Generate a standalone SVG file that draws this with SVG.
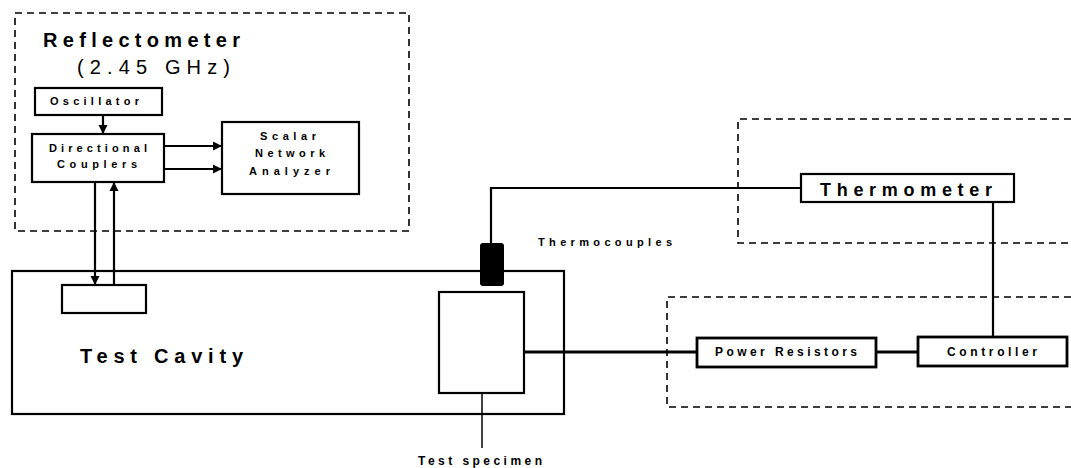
<svg xmlns="http://www.w3.org/2000/svg" width="1071" height="468" viewBox="0 0 1071 468">
<style>
.box{fill:#fff;stroke:#000;stroke-width:2.2}
.thick{fill:#fff;stroke:#000;stroke-width:2.8}
.dash{fill:none;stroke:#000;stroke-width:1.6;stroke-dasharray:7 5}
.ln{fill:none;stroke:#000;stroke-width:2.2}
.t{font-family:"Liberation Sans",Arial,sans-serif;font-weight:bold;fill:#000}
</style>
<defs>
<marker id="ah" viewBox="0 0 10 10" refX="10" refY="5" markerWidth="9" markerHeight="10" orient="auto" markerUnits="userSpaceOnUse">
<path d="M0,0 L10,5 L0,10 z" fill="#000"/>
</marker>
</defs>
<rect width="1071" height="468" fill="#fff"/>
<g id="groups">
<rect class="dash" x="15" y="13" width="394" height="218"/>
<path class="dash" d="M1071,119 H738 V243 H1071"/>
<path class="dash" d="M1071,297 H667 V407 H1071"/>
</g>
<g id="reflectometer-title">
<text class="t" x="43" y="47" font-size="20" textLength="197" lengthAdjust="spacing">Reflectometer</text>
<text class="t" x="77" y="74" font-size="20" style="font-weight:normal" textLength="153" lengthAdjust="spacing">(2.45 GHz)</text>
</g>
<g id="test-cavity">
<rect class="box" x="12" y="271" width="552" height="143"/>
<text class="t" x="80" y="363" font-size="20" textLength="163" lengthAdjust="spacing">Test Cavity</text>
</g>
<g id="connectors">
<line class="ln" x1="103" y1="115" x2="103" y2="134" marker-end="url(#ah)"/>
<line class="ln" x1="164" y1="146" x2="222" y2="146" marker-end="url(#ah)"/>
<line class="ln" x1="164" y1="169" x2="222" y2="169" marker-end="url(#ah)"/>
<line class="ln" x1="95" y1="182" x2="95" y2="285" marker-end="url(#ah)"/>
<line class="ln" x1="114" y1="285" x2="114" y2="182" marker-end="url(#ah)"/>
<path class="ln" d="M491,246 V188 H801"/>
<line class="ln" x1="993" y1="202" x2="993" y2="337"/>
<line class="ln" x1="524" y1="352" x2="697" y2="352" style="stroke-width:3"/>
<line class="ln" x1="876" y1="352" x2="918" y2="352" style="stroke-width:3"/>
<line class="ln" x1="482" y1="393" x2="482" y2="448" style="stroke-width:1.5"/>
</g>
<g id="oscillator">
<rect class="box" x="35" y="88" width="127" height="27"/>
<text class="t" x="50" y="105" font-size="11" textLength="89" lengthAdjust="spacing">Oscillator</text>
</g>
<g id="directional-couplers">
<rect class="box" x="32" y="134" width="132" height="48"/>
<text class="t" x="49" y="152" font-size="11" textLength="98" lengthAdjust="spacing">Directional</text>
<text class="t" x="57" y="168" font-size="11" textLength="80" lengthAdjust="spacing">Couplers</text>
</g>
<g id="scalar-network-analyzer">
<rect class="box" x="222" y="122" width="137" height="72"/>
<text class="t" x="260" y="140" font-size="11" textLength="56" lengthAdjust="spacing">Scalar</text>
<text class="t" x="255" y="157" font-size="11" textLength="70" lengthAdjust="spacing">Network</text>
<text class="t" x="249" y="175" font-size="11" textLength="81" lengthAdjust="spacing">Analyzer</text>
</g>
<g id="antenna">
<rect class="box" x="62" y="285" width="84" height="28"/>
</g>
<g id="thermocouples">
<rect x="480" y="243" width="24" height="43" rx="3" fill="#000"/>
<text class="t" x="538" y="246" font-size="11" textLength="134" lengthAdjust="spacing">Thermocouples</text>
</g>
<g id="test-specimen">
<rect class="box" x="439" y="292" width="85" height="101"/>
<text class="t" x="418" y="465" font-size="12" textLength="124" lengthAdjust="spacing">Test specimen</text>
</g>
<g id="thermometer">
<rect class="box" x="801" y="174" width="213" height="28"/>
<text class="t" x="820" y="196" font-size="18" textLength="172" lengthAdjust="spacing">Thermometer</text>
</g>
<g id="power-resistors">
<rect class="thick" x="697" y="338" width="179" height="29"/>
<text class="t" x="715" y="356" font-size="12" textLength="142" lengthAdjust="spacing">Power Resistors</text>
</g>
<g id="controller">
<rect class="thick" x="918" y="337" width="149" height="29"/>
<text class="t" x="947" y="356" font-size="12" textLength="90" lengthAdjust="spacing">Controller</text>
</g>
</svg>
